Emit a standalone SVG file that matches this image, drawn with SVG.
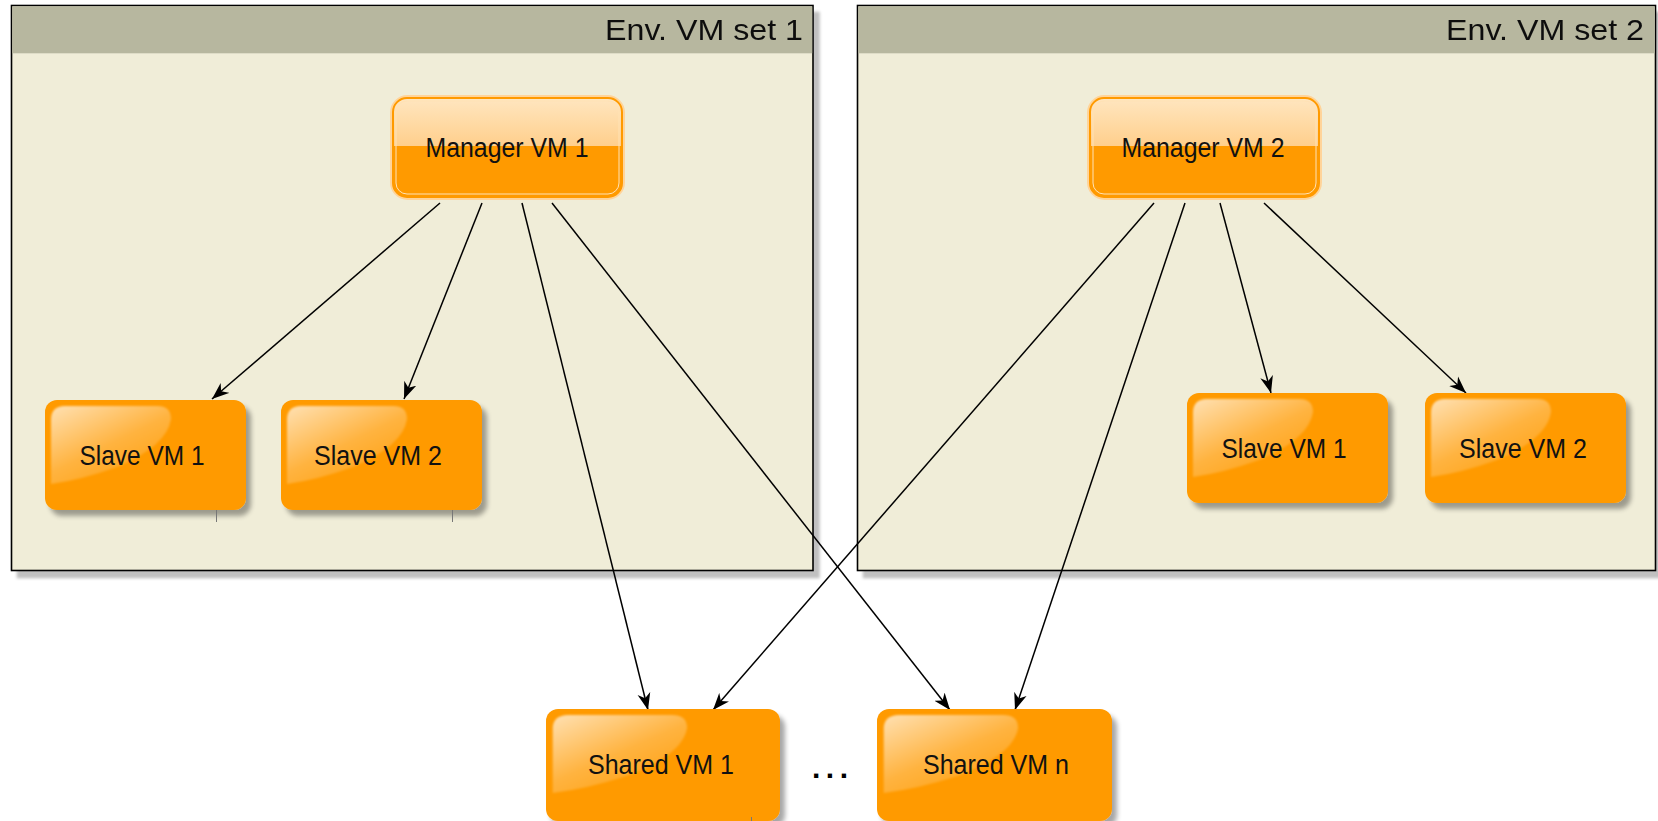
<svg xmlns="http://www.w3.org/2000/svg" width="1658" height="821" viewBox="0 0 1658 821">
<style>
  .cont { fill: #F0EDD8; stroke: #000; stroke-width: 1.6; }
  .hdr { fill: #B7B79F; }
  .htxt { font-family: "Liberation Sans", Arial, sans-serif; font-size: 30px; fill: #111; text-anchor: end; }
  .ntxt { font-family: "Liberation Sans", Arial, sans-serif; font-size: 27px; fill: #111; text-anchor: middle; }
  .box { fill: #FF9A00; }
  .edge { fill: none; stroke: #000; stroke-width: 1.5; }
  .tick { stroke: #777; stroke-width: 1; }
  .gl { fill: url(#gloss); filter: url(#soft); }
</style>
<defs>
  <filter id="sh" x="-10%" y="-10%" width="130%" height="130%">
    <feGaussianBlur in="SourceAlpha" stdDeviation="2.5"/>
    <feOffset dx="5" dy="6" result="o"/>
    <feComponentTransfer><feFuncA type="linear" slope="0.35"/></feComponentTransfer>
    <feMerge><feMergeNode/><feMergeNode in="SourceGraphic"/></feMerge>
  </filter>
  <filter id="shc" x="-5%" y="-5%" width="110%" height="110%">
    <feGaussianBlur in="SourceAlpha" stdDeviation="1.5"/>
    <feOffset dx="6" dy="7" result="o"/>
    <feComponentTransfer><feFuncA type="linear" slope="0.25"/></feComponentTransfer>
    <feMerge><feMergeNode/><feMergeNode in="SourceGraphic"/></feMerge>
  </filter>
  <filter id="soft" x="-10%" y="-10%" width="120%" height="120%">
    <feGaussianBlur stdDeviation="0.9"/>
  </filter>
  <linearGradient id="gloss" x1="0" y1="0" x2="0.75" y2="1">
    <stop offset="0" stop-color="#fff" stop-opacity="0.7"/>
    <stop offset="0.55" stop-color="#fff" stop-opacity="0.25"/>
    <stop offset="1" stop-color="#fff" stop-opacity="0.06"/>
  </linearGradient>
  <linearGradient id="mtop" x1="0" y1="0" x2="0" y2="1">
    <stop offset="0" stop-color="#FFE6C0"/>
    <stop offset="1" stop-color="#FFCF8C"/>
  </linearGradient>
  <marker id="arr" viewBox="0 -7 18 14" refX="17" refY="0" markerWidth="18" markerHeight="14" markerUnits="userSpaceOnUse" orient="auto">
    <path d="M0,-6.5 L17,0 L0,6.5 L5,0 Z" fill="#000"/>
  </marker>
  <path id="glosspath" d="M6,20 Q6,6 20,6 L112,6 Q126,6 126,19 Q122,46 72,67 Q36,80 6,84 Z"/>
</defs>

<g id="env1" filter="url(#shc)">
  <rect class="cont" x="11.5" y="5.5" width="801.5" height="565"/>
  <rect class="hdr" x="12.3" y="6.3" width="799.9" height="47"/>
  <text class="htxt" x="803" y="40" textLength="198" lengthAdjust="spacingAndGlyphs">Env. VM set 1</text>
</g>
<g id="env2" filter="url(#shc)">
  <rect class="cont" x="857.5" y="5.5" width="798" height="565"/>
  <rect class="hdr" x="858.3" y="6.3" width="796.4" height="47"/>
  <text class="htxt" x="1644" y="40" textLength="198" lengthAdjust="spacingAndGlyphs">Env. VM set 2</text>
</g>

<g id="connectors">
  <line class="edge" x1="440" y1="203" x2="212" y2="399" marker-end="url(#arr)"/>
  <line class="edge" x1="482" y1="203" x2="404" y2="399" marker-end="url(#arr)"/>
  <line class="edge" x1="522" y1="203" x2="648" y2="710" marker-end="url(#arr)"/>
  <line class="edge" x1="552" y1="203" x2="950" y2="710" marker-end="url(#arr)"/>
  <line class="edge" x1="1154" y1="203" x2="713" y2="710" marker-end="url(#arr)"/>
  <line class="edge" x1="1185" y1="203" x2="1015" y2="710" marker-end="url(#arr)"/>
  <line class="edge" x1="1220" y1="203" x2="1271" y2="393" marker-end="url(#arr)"/>
  <line class="edge" x1="1264" y1="203" x2="1466" y2="393" marker-end="url(#arr)"/>
</g>

<g id="manager1" transform="translate(390,95)">
  <rect x="1.5" y="1.5" width="232" height="102" rx="16" fill="none" stroke="#FFD49A" stroke-width="3"/>
  <rect x="3" y="3" width="229" height="99" rx="14" fill="#FF9A00"/>
  <path d="M3,51 L3,17 Q3,3 17,3 L218,3 Q232,3 232,17 L232,51 Z" fill="url(#mtop)"/>
  <rect x="3" y="3" width="229" height="99" rx="14" fill="none" stroke="#FF9A00" stroke-width="2"/>
  <rect x="6" y="6" width="223" height="93" rx="11" fill="none" stroke="#FFE2B5" stroke-width="1"/>
  <text class="ntxt" x="117" y="62" textLength="163" lengthAdjust="spacingAndGlyphs">Manager VM 1</text>
</g>
<g id="manager2" transform="translate(1087,95)">
  <rect x="1.5" y="1.5" width="232" height="102" rx="16" fill="none" stroke="#FFD49A" stroke-width="3"/>
  <rect x="3" y="3" width="229" height="99" rx="14" fill="#FF9A00"/>
  <path d="M3,51 L3,17 Q3,3 17,3 L218,3 Q232,3 232,17 L232,51 Z" fill="url(#mtop)"/>
  <rect x="3" y="3" width="229" height="99" rx="14" fill="none" stroke="#FF9A00" stroke-width="2"/>
  <rect x="6" y="6" width="223" height="93" rx="11" fill="none" stroke="#FFE2B5" stroke-width="1"/>
  <text class="ntxt" x="116" y="62" textLength="163" lengthAdjust="spacingAndGlyphs">Manager VM 2</text>
</g>

<g id="e1slave1" transform="translate(45,400)">
  <rect class="box" width="201" height="110" rx="12" filter="url(#sh)"/>
  <use href="#glosspath" class="gl"/>
  <text class="ntxt" x="97" y="65" textLength="125" lengthAdjust="spacingAndGlyphs">Slave VM 1</text>
</g>
<g id="e1slave2" transform="translate(281,400)">
  <rect class="box" width="201" height="110" rx="12" filter="url(#sh)"/>
  <use href="#glosspath" class="gl"/>
  <text class="ntxt" x="97" y="65" textLength="128" lengthAdjust="spacingAndGlyphs">Slave VM 2</text>
</g>
<g id="e2slave1" transform="translate(1187,393)">
  <rect class="box" width="201" height="110" rx="12" filter="url(#sh)"/>
  <use href="#glosspath" class="gl"/>
  <text class="ntxt" x="97" y="65" textLength="125" lengthAdjust="spacingAndGlyphs">Slave VM 1</text>
</g>
<g id="e2slave2" transform="translate(1425,393)">
  <rect class="box" width="201" height="110" rx="12" filter="url(#sh)"/>
  <use href="#glosspath" class="gl"/>
  <text class="ntxt" x="98" y="65" textLength="128" lengthAdjust="spacingAndGlyphs">Slave VM 2</text>
</g>
<g id="shared1" transform="translate(546,709)">
  <rect class="box" width="234" height="112" rx="12" filter="url(#sh)"/>
  <use href="#glosspath" class="gl" transform="scale(1.12,1)"/>
  <text class="ntxt" x="115" y="65" textLength="146" lengthAdjust="spacingAndGlyphs">Shared VM 1</text>
</g>
<g id="shared-n" transform="translate(877,709)">
  <rect class="box" width="235" height="112" rx="12" filter="url(#sh)"/>
  <use href="#glosspath" class="gl" transform="scale(1.12,1)"/>
  <text class="ntxt" x="119" y="65" textLength="146" lengthAdjust="spacingAndGlyphs">Shared VM n</text>
</g>
<g id="ellipsis">
  <text x="812" y="778" font-family="'Liberation Sans', Arial, sans-serif" font-size="30" font-weight="bold" letter-spacing="5.5" fill="#000">...</text>
</g>
<g id="ticks">
  <line class="tick" x1="216.5" y1="510" x2="216.5" y2="522"/>
  <line class="tick" x1="452.5" y1="510" x2="452.5" y2="522"/>
  <line class="tick" x1="751.5" y1="817" x2="751.5" y2="821"/>
</g>
</svg>
